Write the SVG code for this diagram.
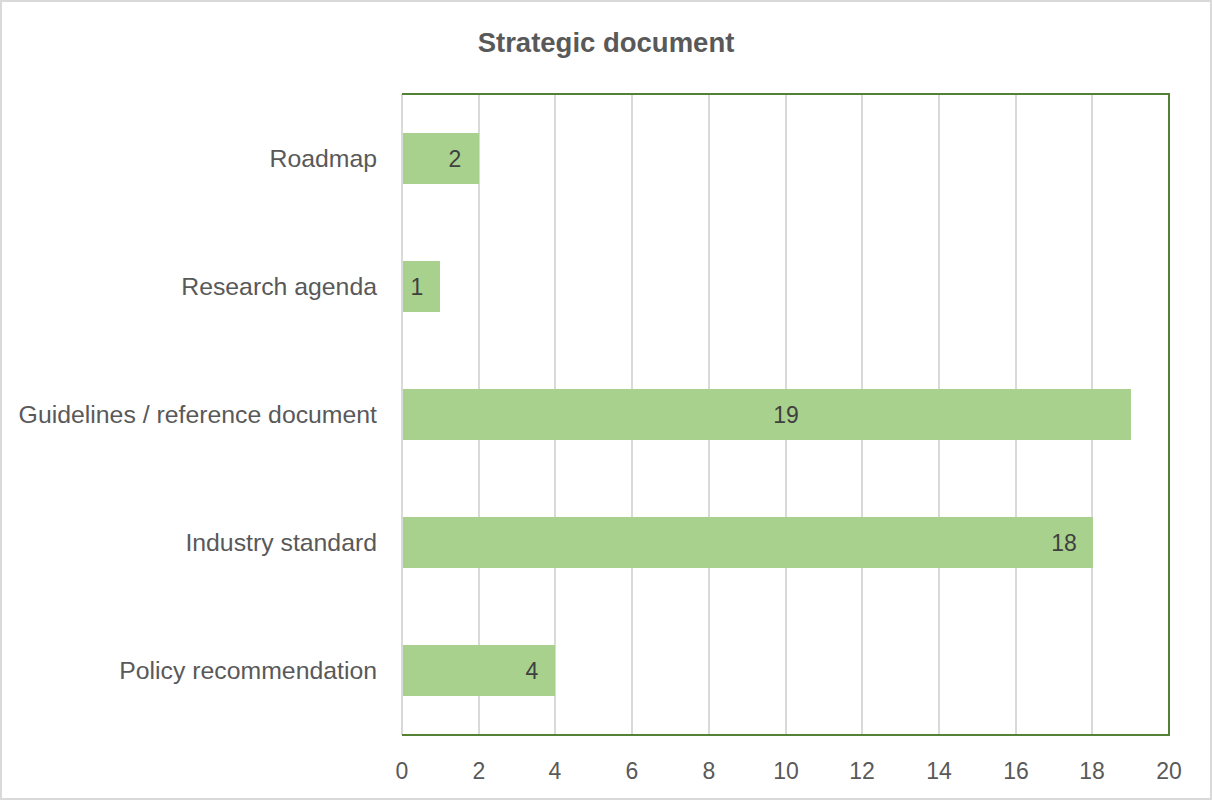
<svg xmlns="http://www.w3.org/2000/svg" width="1212" height="800" viewBox="0 0 1212 800">
<style>
.cat{font-family:"Liberation Sans",Arial,sans-serif;font-size:24.8px;fill:#595959;text-anchor:end}
.tick{font-family:"Liberation Sans",Arial,sans-serif;font-size:23px;fill:#595959;text-anchor:middle}
.val{font-family:"Liberation Sans",Arial,sans-serif;font-size:23px;fill:#404040;text-anchor:middle}
.title{font-family:"Liberation Sans",Arial,sans-serif;font-size:27.5px;font-weight:bold;fill:#595959;text-anchor:middle}
.grid{stroke:#D9D9D9;stroke-width:2}
.bar{fill:#A9D18E}
</style>
<rect x="1" y="1" width="1210" height="798" fill="#FFFFFF" stroke="#D9D9D9" stroke-width="2"/>
<text class="title" x="606" y="52">Strategic document</text>
<g id="grid">
<line class="grid" x1="402" y1="94" x2="402" y2="735"/>
<line class="grid" x1="479" y1="94" x2="479" y2="735"/>
<line class="grid" x1="555" y1="94" x2="555" y2="735"/>
<line class="grid" x1="632" y1="94" x2="632" y2="735"/>
<line class="grid" x1="709" y1="94" x2="709" y2="735"/>
<line class="grid" x1="786" y1="94" x2="786" y2="735"/>
<line class="grid" x1="862" y1="94" x2="862" y2="735"/>
<line class="grid" x1="939" y1="94" x2="939" y2="735"/>
<line class="grid" x1="1016" y1="94" x2="1016" y2="735"/>
<line class="grid" x1="1092" y1="94" x2="1092" y2="735"/>
</g>
<g id="bar-roadmap"><rect class="bar" x="403" y="133" width="76" height="51"/><text class="val" x="455" y="167">2</text></g>
<g id="bar-research"><rect class="bar" x="403" y="261" width="37" height="51"/><text class="val" x="417" y="295">1</text></g>
<g id="bar-guidelines"><rect class="bar" x="403" y="389" width="728" height="51"/><text class="val" x="786" y="423">19</text></g>
<g id="bar-industry"><rect class="bar" x="403" y="517" width="690" height="51"/><text class="val" x="1064" y="551">18</text></g>
<g id="bar-policy"><rect class="bar" x="403" y="645" width="152" height="51"/><text class="val" x="532" y="679">4</text></g>
<path d="M402,94 H1169 V735 H402" fill="none" stroke="#548235" stroke-width="2"/>
<g id="categories">
<text class="cat" x="377" y="167">Roadmap</text>
<text class="cat" x="377" y="295">Research agenda</text>
<text class="cat" x="377" y="423">Guidelines / reference document</text>
<text class="cat" x="377" y="551">Industry standard</text>
<text class="cat" x="377" y="679">Policy recommendation</text>
</g>
<g id="ticks">
<text class="tick" x="402" y="779">0</text>
<text class="tick" x="479" y="779">2</text>
<text class="tick" x="555" y="779">4</text>
<text class="tick" x="632" y="779">6</text>
<text class="tick" x="709" y="779">8</text>
<text class="tick" x="786" y="779">10</text>
<text class="tick" x="862" y="779">12</text>
<text class="tick" x="939" y="779">14</text>
<text class="tick" x="1016" y="779">16</text>
<text class="tick" x="1092" y="779">18</text>
<text class="tick" x="1169" y="779">20</text>
</g>
</svg>
